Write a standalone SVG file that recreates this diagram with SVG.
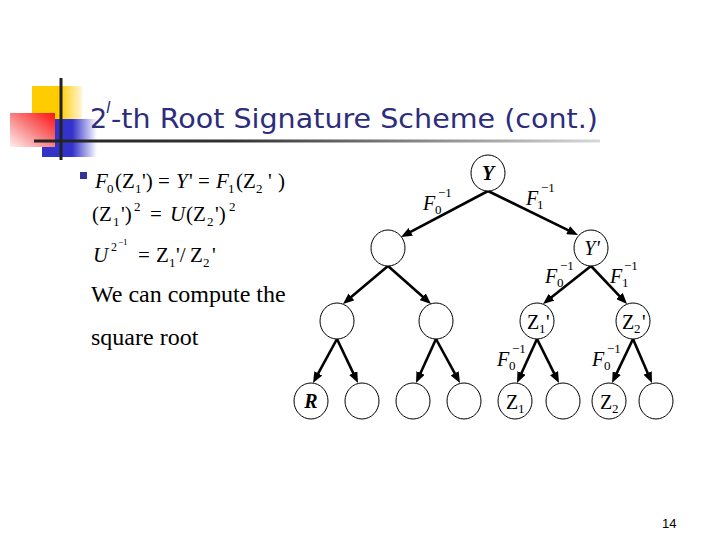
<svg xmlns="http://www.w3.org/2000/svg" width="720" height="540" viewBox="0 0 720 540">
<style>
.title{font-family:"DejaVu Sans","Liberation Sans",sans-serif;fill:#2D2D7D}
.m{font-family:"Liberation Serif","DejaVu Serif",serif;font-size:21px;fill:#000}
.mi{font-style:italic}
.s{font-size:13px}
.t{font-family:"Liberation Serif","DejaVu Serif",serif;font-size:24px;fill:#000}
.node{fill:#fff;stroke:#000;stroke-width:1}
.edge{stroke:#000;stroke-width:2.6;fill:none;marker-end:url(#ah)}
.lbl{font-family:"Liberation Serif","DejaVu Serif",serif;font-size:20px;fill:#000}
</style>
<defs>
<marker id="ah" markerUnits="userSpaceOnUse" markerWidth="12" markerHeight="9" refX="5" refY="4.5" orient="auto">
<path d="M0,0 L11,4.5 L0,9 z" fill="#000"/>
</marker>
<linearGradient id="gy" x1="0" y1="0" x2="1" y2="0">
<stop offset="0" stop-color="#FFCC00"/><stop offset="0.55" stop-color="#FFCC00"/><stop offset="1" stop-color="#FFF6D8"/>
</linearGradient>
<linearGradient id="gb" x1="0" y1="0" x2="1" y2="0">
<stop offset="0" stop-color="#3333CC"/><stop offset="0.55" stop-color="#3333CC"/><stop offset="1" stop-color="#FFFFFF"/>
</linearGradient>
<linearGradient id="gr" x1="0" y1="1" x2="1" y2="0">
<stop offset="0" stop-color="#FFF0F0"/><stop offset="0.5" stop-color="#F88080"/><stop offset="1" stop-color="#FF1010"/>
</linearGradient>
<linearGradient id="gl" x1="0" y1="0" x2="1" y2="0">
<stop offset="0" stop-color="#222"/><stop offset="0.35" stop-color="#333"/><stop offset="1" stop-color="#D8D8D8"/>
</linearGradient>
</defs>
<rect width="720" height="540" fill="#fff"/>
<g id="decor">
<rect x="32" y="86" width="50" height="33" fill="url(#gy)"/>
<rect x="42" y="119" width="55" height="38" fill="url(#gb)"/>
<rect x="10" y="113" width="45" height="34" fill="url(#gr)"/>
<rect x="34" y="139.5" width="566" height="3" fill="url(#gl)"/>
<rect x="59.5" y="78" width="3" height="82" fill="#222"/>
</g>
<g id="title">
<text class="title" x="90" y="128" font-size="27">2</text>
<text class="title" x="106" y="113" font-size="16" font-style="italic">l</text>
<text class="title" x="111" y="128" font-size="27" textLength="487" lengthAdjust="spacingAndGlyphs">-th Root Signature Scheme (cont.)</text>
</g>
<g id="bullet-text">
<rect x="80" y="172" width="7" height="7" fill="#333399"/>
<text class="m"><tspan class="mi" x="95" y="188">F</tspan><tspan class="s" x="107" y="193">0</tspan><tspan x="115" y="188">(Z</tspan><tspan class="s" x="135" y="193">1</tspan><tspan x="142" y="188">')</tspan><tspan x="158" y="188">=</tspan><tspan class="mi" x="176" y="188">Y</tspan><tspan x="189" y="188">'</tspan><tspan x="198" y="188">=</tspan><tspan class="mi" x="216" y="188">F</tspan><tspan class="s" x="228" y="193">1</tspan><tspan x="236" y="188">(Z</tspan><tspan class="s" x="256" y="193">2</tspan><tspan x="268" y="188">'</tspan><tspan x="278" y="188">)</tspan></text>
<text class="m"><tspan x="92" y="221">(Z</tspan><tspan class="s" x="113" y="226">1</tspan><tspan x="121" y="221">')</tspan><tspan class="s" x="134" y="211">2</tspan><tspan x="150" y="221">=</tspan><tspan class="mi" x="170" y="221">U</tspan><tspan x="186" y="221">(Z</tspan><tspan class="s" x="207" y="226">2</tspan><tspan x="215" y="221">')</tspan><tspan class="s" x="229" y="211">2</tspan></text>
<text class="m"><tspan class="mi" x="93" y="262">U</tspan><tspan font-size="12" x="111" y="251">2</tspan><tspan font-size="9" x="118" y="245">−1</tspan><tspan x="138" y="262">=</tspan><tspan x="156" y="262">Z</tspan><tspan class="s" x="169" y="267">1</tspan><tspan x="176" y="262">'/</tspan><tspan x="190" y="262">Z</tspan><tspan class="s" x="203" y="267">2</tspan><tspan x="212" y="262">'</tspan></text>
<text class="t" x="91" y="302">We can compute the</text>
<text class="t" x="91" y="345">square root</text>
</g>
<g id="connectors">
<line class="edge" x1="488" y1="191" x2="406.3" y2="234.2"/>
<line class="edge" x1="488" y1="191" x2="572.6" y2="232.4"/>
<line class="edge" x1="388" y1="266" x2="347.6" y2="300.1"/>
<line class="edge" x1="388" y1="266" x2="426.5" y2="300"/>
<line class="edge" x1="591" y1="266" x2="547.7" y2="300.3"/>
<line class="edge" x1="591" y1="266" x2="622.9" y2="299.6"/>
<line class="edge" x1="337" y1="339" x2="315.9" y2="377.7"/>
<line class="edge" x1="337" y1="339" x2="355.4" y2="377.6"/>
<line class="edge" x1="436" y1="339" x2="418.5" y2="377.5"/>
<line class="edge" x1="436" y1="339" x2="457.1" y2="377.7"/>
<line class="edge" x1="537" y1="339" x2="519.5" y2="377.5"/>
<line class="edge" x1="537" y1="339" x2="556.3" y2="377.6"/>
<line class="edge" x1="633" y1="339" x2="614.6" y2="377.6"/>
<line class="edge" x1="633" y1="339" x2="649.6" y2="377.5"/>
</g>
<g id="edge-labels" class="lbl">
<text><tspan class="mi" x="423" y="210">F</tspan><tspan class="s" x="435" y="214">0</tspan><tspan class="s" x="438" y="197">−1</tspan></text>
<text><tspan class="mi" x="526" y="205">F</tspan><tspan class="s" x="537" y="209">1</tspan><tspan class="s" x="541" y="192">−1</tspan></text>
<text><tspan class="mi" x="545" y="283">F</tspan><tspan class="s" x="557" y="287">0</tspan><tspan class="s" x="560" y="270">−1</tspan></text>
<text><tspan class="mi" x="610" y="283">F</tspan><tspan class="s" x="622" y="287">1</tspan><tspan class="s" x="624" y="270">−1</tspan></text>
<text><tspan class="mi" x="497" y="366">F</tspan><tspan class="s" x="509" y="370">0</tspan><tspan class="s" x="512" y="353">−1</tspan></text>
<text><tspan class="mi" x="592" y="366">F</tspan><tspan class="s" x="604" y="370">0</tspan><tspan class="s" x="607" y="353">−1</tspan></text>
</g>
<g id="n-Y"><ellipse class="node" cx="488" cy="173" rx="17" ry="18"/><text class="lbl" x="488" y="180" text-anchor="middle" font-weight="bold" font-style="italic">Y</text></g>
<g id="n-L2a"><ellipse class="node" cx="388" cy="248" rx="17" ry="18"/></g>
<g id="n-Yp"><ellipse class="node" cx="591" cy="248" rx="17" ry="18"/><text class="lbl" x="592" y="255" text-anchor="middle" font-style="italic">Y'</text></g>
<g id="n-L3a"><ellipse class="node" cx="337" cy="321" rx="17" ry="18"/></g>
<g id="n-L3b"><ellipse class="node" cx="436" cy="321" rx="17" ry="18"/></g>
<g id="n-Z1p"><ellipse class="node" cx="537" cy="321" rx="17" ry="18"/><text class="lbl"><tspan x="527" y="329">Z</tspan><tspan class="s" x="539" y="333">1</tspan><tspan x="546" y="329">'</tspan></text></g>
<g id="n-Z2p"><ellipse class="node" cx="633" cy="321" rx="17" ry="18"/><text class="lbl"><tspan x="622" y="329">Z</tspan><tspan class="s" x="634" y="333">2</tspan><tspan x="642" y="329">'</tspan></text></g>
<g id="n-R"><ellipse class="node" cx="311" cy="401" rx="17" ry="18"/><text class="lbl" x="311" y="408" text-anchor="middle" font-weight="bold" font-style="italic">R</text></g>
<g id="n-L4b"><ellipse class="node" cx="362" cy="401" rx="17" ry="18"/></g>
<g id="n-L4c"><ellipse class="node" cx="413" cy="401" rx="17" ry="18"/></g>
<g id="n-L4d"><ellipse class="node" cx="464" cy="401" rx="17" ry="18"/></g>
<g id="n-Z1"><ellipse class="node" cx="515" cy="401" rx="17" ry="18"/><text class="lbl"><tspan x="506" y="409">Z</tspan><tspan class="s" x="518" y="413">1</tspan></text></g>
<g id="n-L4f"><ellipse class="node" cx="563" cy="401" rx="17" ry="18"/></g>
<g id="n-Z2"><ellipse class="node" cx="609" cy="401" rx="17" ry="18"/><text class="lbl"><tspan x="600" y="409">Z</tspan><tspan class="s" x="612" y="413">2</tspan></text></g>
<g id="n-L4h"><ellipse class="node" cx="656" cy="401" rx="17" ry="18"/></g>
<text x="662" y="528" font-family="Liberation Sans, Arial, sans-serif" font-size="13" fill="#000">14</text>
</svg>
